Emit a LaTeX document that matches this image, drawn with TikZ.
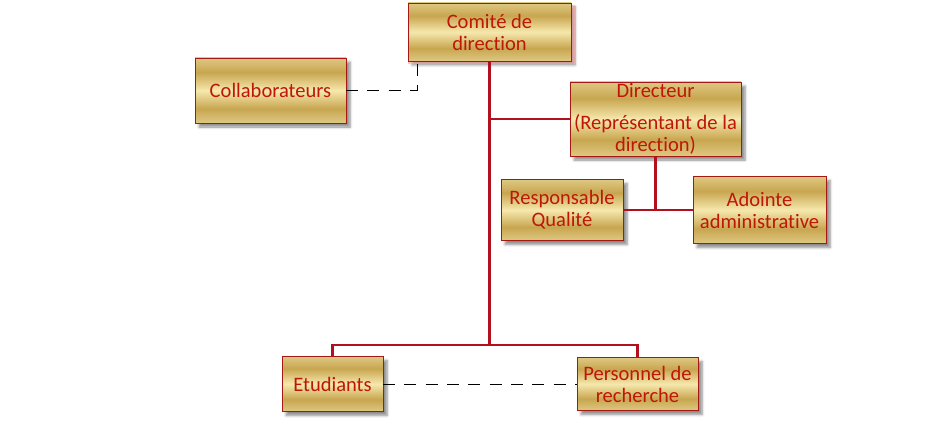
\documentclass[tikz,border=0pt]{standalone}
\usepackage{fontspec}
\setmainfont[Ligatures=NoCommon]{Carlito}
\usetikzlibrary{shadows, shadows.blur}
\definecolor{goldA}{RGB}{222,200,130}
\definecolor{goldB}{RGB}{200,166,80}
\definecolor{goldC}{RGB}{246,232,172}
\definecolor{boxred}{RGB}{165,25,20}
\definecolor{txtred}{RGB}{190,22,8}
\definecolor{linered}{RGB}{178,16,30}
\pgfdeclareverticalshading{goldbar}{100bp}{color(0bp)=(goldA); color(25bp)=(goldA); color(36bp)=(goldB); color(50bp)=(goldC); color(64bp)=(goldB); color(75bp)=(goldA); color(100bp)=(goldA)}
\tikzset{
    orgbox/.style={draw=boxred, line width=0.7pt, shading=goldbar, text=txtred, align=center,
        inner sep=0pt, outer sep=0pt, font=\fontsize{15.4}{16.5}\selectfont,
        blur shadow={shadow xshift=3pt, shadow yshift=-3pt, shadow blur steps=6, shadow opacity=45}},
    orgline/.style={draw=linered, line width=1.6pt},
    linkline/.style={draw=black, line width=0.75pt, dash pattern=on 9pt off 7pt}
}
\begin{document}
\begin{tikzpicture}[x=0.75pt, y=-0.75pt]
        \useasboundingbox (0,0) rectangle (932,424);
        \node[orgbox, minimum width=122.25pt, minimum height=43.5pt,
            general shadow={fill=red!35, opacity=0.6, shadow xshift=1.5pt, shadow yshift=-2pt, shadow scale=1.02}] (comite) at (489.5, 32) {Comité de \\ direction};
        \node[orgbox, minimum width=113.25pt, minimum height=48.75pt] (collab) at (270.5, 90.5) {Collaborateurs};
        \node[orgbox, minimum width=128.25pt, minimum height=55.5pt] (dir) at (655.5, 119) {Directeur \\[8pt] (Représentant de la \\ direction)};
        \node[orgbox, minimum width=91.5pt, minimum height=45.75pt] (resp) at (562, 210) {Responsable \\ Qualité};
        \node[orgbox, minimum width=99.75pt, minimum height=50.25pt] (adj) at (759.5, 210) {Adointe \\ administrative};
        \node[orgbox, minimum width=75.75pt, minimum height=41.25pt] (etud) at (332.5, 384) {Etudiants};
        \node[orgbox, minimum width=90.75pt, minimum height=39.75pt] (pers) at (637.5, 384) {Personnel de \\ recherche};
        
        \begin{scope}[orgline]
            \draw (comite.south) -- ++(0, 284) coordinate (fork);
            \draw (comite.south |- dir.west) -- (dir.west);
            \draw (etud.north) |- (fork) -| (pers.north);
            \draw (dir.south) -- (dir.south |- resp.east);
            \draw (resp.east) -- (adj.west);
        \end{scope}
        \begin{scope}[linkline]
            \draw (collab.east) -| ([xshift=6.75pt]comite.south west);
            \draw (etud.east) -- (pers.west);
        \end{scope}
    \end{tikzpicture}
\end{document}
